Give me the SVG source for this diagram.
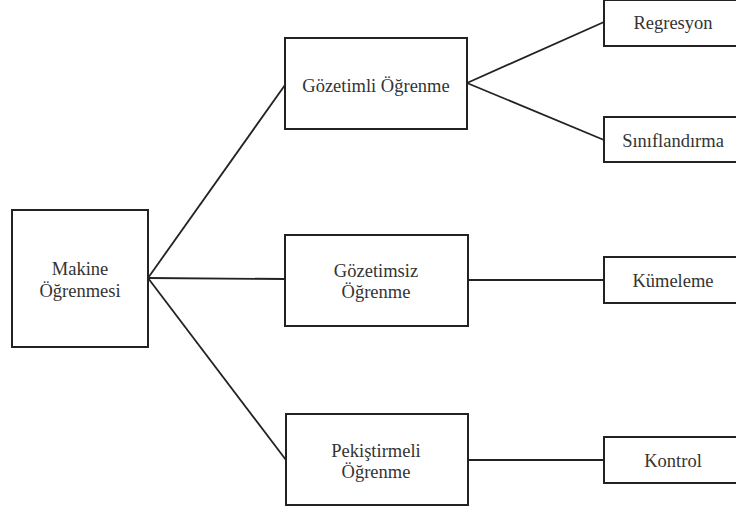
<svg xmlns="http://www.w3.org/2000/svg" width="736" height="510" viewBox="0 0 736 510">
<style>
.box{fill:#fff;stroke:#222;stroke-width:2}
.t{font-family:'Liberation Serif',Tinos,'Times New Roman',Times,'Noto Serif','DejaVu Serif',FreeSerif,serif;font-size:18.5px;fill:#333;text-anchor:middle}
.c{stroke:#222;stroke-width:1.8;fill:none}
</style>
<rect width="736" height="510" fill="#fff"/>
<g id="connectors">
<line class="c" x1="148" y1="278" x2="285" y2="85"/>
<line class="c" x1="148" y1="278" x2="285" y2="279"/>
<line class="c" x1="148" y1="278" x2="286" y2="460"/>
<line class="c" x1="467" y1="83" x2="604" y2="22"/>
<line class="c" x1="467" y1="83" x2="604" y2="140"/>
<line class="c" x1="468" y1="280" x2="604" y2="280"/>
<line class="c" x1="468" y1="460" x2="604" y2="460"/>
</g>
<g id="makine">
<rect class="box" x="12" y="210" width="136" height="137"/>
<text class="t" x="80" y="275">Makine</text>
<text class="t" x="80" y="297">Öğrenmesi</text>
</g>
<g id="gozetimli">
<rect class="box" x="285" y="38" width="182" height="91"/>
<text class="t" x="376" y="92">Gözetimli Öğrenme</text>
</g>
<g id="gozetimsiz">
<rect class="box" x="285" y="235" width="183" height="91"/>
<text class="t" x="376" y="277">Gözetimsiz</text>
<text class="t" x="376" y="298">Öğrenme</text>
</g>
<g id="pekistirmeli">
<rect class="box" x="286" y="414" width="182" height="91"/>
<text class="t" x="376" y="457">Pekiştirmeli</text>
<text class="t" x="376" y="478">Öğrenme</text>
</g>
<g id="regresyon">
<rect class="box" x="604" y="0" width="140" height="46"/>
<text class="t" x="673" y="29">Regresyon</text>
</g>
<g id="siniflandirma">
<rect class="box" x="604" y="117" width="140" height="45"/>
<text class="t" x="673" y="147">Sınıflandırma</text>
</g>
<g id="kumeleme">
<rect class="box" x="604" y="257" width="140" height="46"/>
<text class="t" x="673" y="287">Kümeleme</text>
</g>
<g id="kontrol">
<rect class="box" x="604" y="437" width="140" height="46"/>
<text class="t" x="673" y="467">Kontrol</text>
</g>
</svg>
